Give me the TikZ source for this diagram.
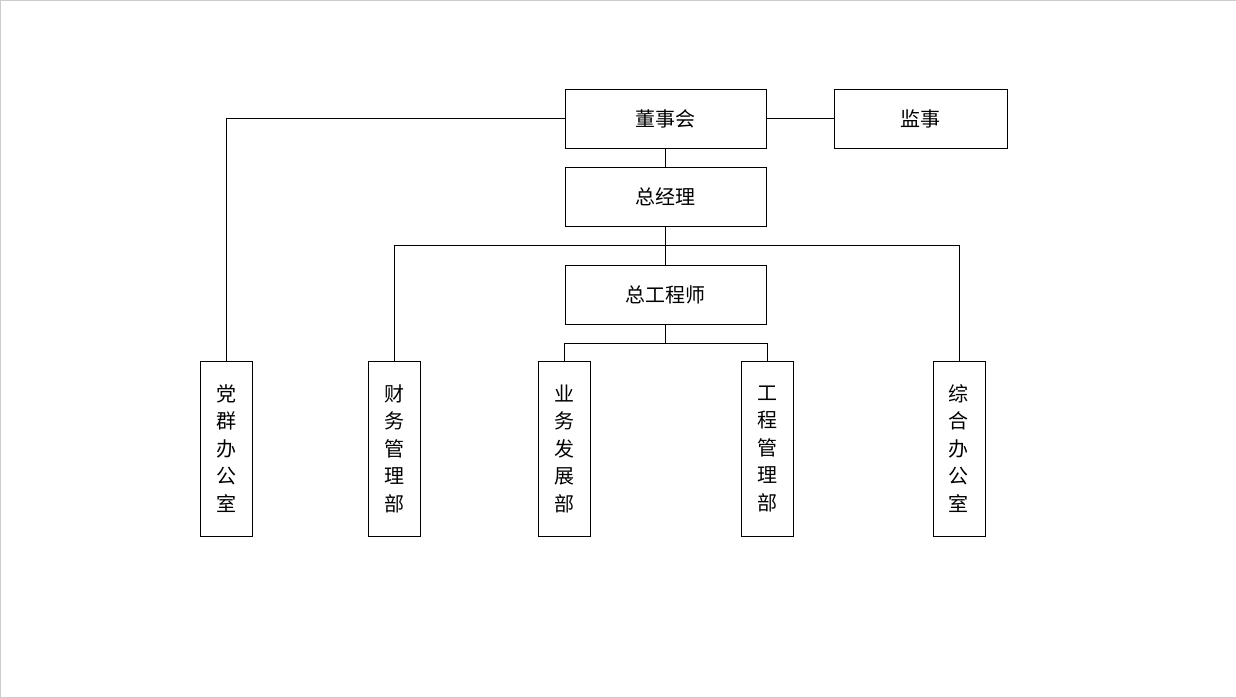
\documentclass[tikz,border=0pt]{standalone}
\usepackage{fontspec}
\newfontfamily\cjk{Noto Sans CJK SC}
\begin{document}
\begin{tikzpicture}[x=1pt,y=-1pt]
\tikzset{box/.style = {draw,thin,minimum width=201pt,minimum height=59pt,font=\cjk\fontsize{20}{24}\selectfont}}
\tikzset{col/.style = {draw,thin,minimum width=52pt,minimum height=175pt,align=center,font=\cjk\fontsize{20}{27.5}\selectfont}}
\draw[gray!40] (0,0) rectangle (1236,697);
% top
\node[box] (dsh) at (665.5,118.5) {董事会};
\node[box,minimum width=173pt] (js) at (920.5,118.5) {监事};
\node[box] (zjl) at (665.5,196.5) {总经理};
\node[box] (zgcs) at (665.5,294.5) {总工程师};
% departments
\node[col] (dq) at (226,448.5) {党\\群\\办\\公\\室};
\node[col] (cw) at (394.5,448.5) {财\\务\\管\\理\\部};
\node[col] (yw) at (564.5,448.5) {业\\务\\发\\展\\部};
\node[col] (gc) at (767.5,448.5) {工\\程\\管\\理\\部};
\node[col] (zh) at (959,448.5) {综\\合\\办\\公\\室};
% lines
\coordinate (a) at (665.5,245);
\coordinate (b) at (665.5,343);
\draw (dsh) -- (js);
\draw (dsh) -- (zjl);
\draw (zjl) -- (zgcs);
\draw (dsh.west) -| (dq.north);
\draw (a) -| (cw.north);
\draw (a) -| (zh.north);
\draw (zgcs) -- (b);
\draw (b) -| (yw.north);
\draw (b) -| (gc.north);
\end{tikzpicture}
\end{document}
